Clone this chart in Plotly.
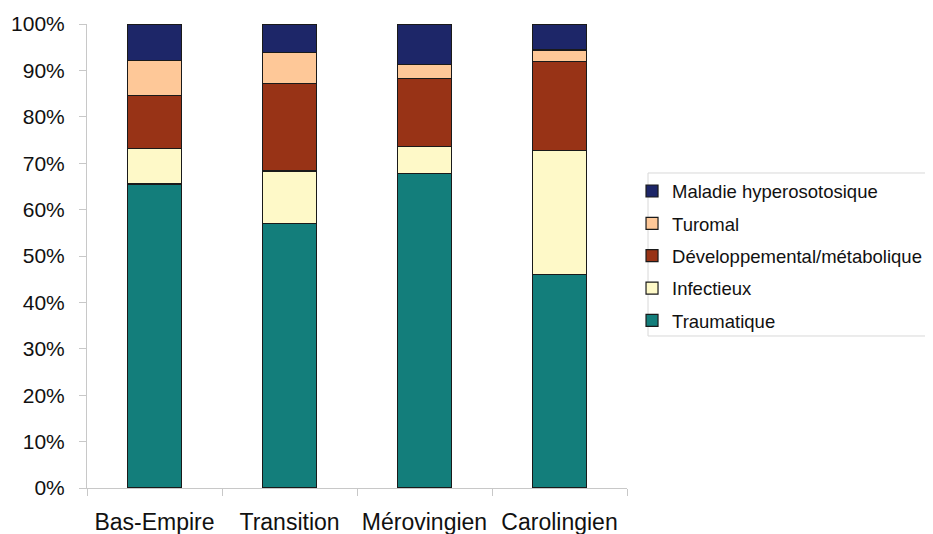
import plotly.graph_objects as go

categories = ["Bas-Empire", "Transition", "Mérovingien", "Carolingien"]

traumatique = [65.5, 57.0, 67.7, 46.0]
infectieux = [7.6, 11.3, 5.9, 26.8]
developpemental = [11.5, 18.8, 14.6, 19.2]
turomal = [7.6, 6.7, 3.0, 2.4]
maladie = [7.8, 6.2, 8.8, 5.6]

series = [
    ("Traumatique", traumatique, "#137e7b"),
    ("Infectieux", infectieux, "#fef9c8"),
    ("Développemental/métabolique", developpemental, "#983316"),
    ("Turomal", turomal, "#fec898"),
    ("Maladie hyperosotosique", maladie, "#1d2668"),
]

y_ticks = [0, 10, 20, 30, 40, 50, 60, 70, 80, 90, 100]
y_tick_labels = [f"{v}%" for v in y_ticks]

fig = go.Figure()
n = len(series)
for i, (name, vals, col) in enumerate(series):
    fig.add_trace(go.Bar(
        x=categories, y=vals, name=name,
        marker=dict(color=col, line=dict(color="#1a1a1a", width=1.2)),
        legendgroup=f"g{i}",
        legendrank=(n - i) * 100,
    ))

font_family = "Liberation Sans, Arial, sans-serif"

# legend frame drawn separately
fig.add_shape(type="rect", xref="paper", yref="paper",
              x0=1.0389, x1=1.5605, y0=0.3276, y1=0.6789,
              line=dict(color="#d8d8d8", width=1), fillcolor="rgba(0,0,0,0)",
              layer="below")

fig.update_layout(
    barmode="stack",
    bargap=0.6,
    width=925, height=526,
    margin=dict(l=79, r=306, t=16, b=46, autoexpand=False),
    paper_bgcolor="white",
    plot_bgcolor="white",
    font=dict(family=font_family, color="#111111"),
    showlegend=True,
    legend=dict(
        x=1.0093, y=0.680, xanchor="left", yanchor="top",
        traceorder="grouped",
        tracegroupgap=5.3,
        font=dict(size=18.5, family=font_family, color="#111111"),
        borderwidth=0,
        bgcolor="rgba(0,0,0,0)",
        itemwidth=30,
    ),
    xaxis=dict(
        automargin=False,
        showline=True, linecolor="#c8c8c8", linewidth=1,
        ticks="outside", tickson="boundaries", ticklen=7, tickcolor="#c8c8c8",
        tickfont=dict(size=23, family=font_family, color="#111111"),
        ticklabelstandoff=13,
        showgrid=False,
    ),
    yaxis=dict(
        automargin=False,
        range=[0, 100],
        tickvals=y_ticks, ticktext=y_tick_labels,
        showline=True, linecolor="#c8c8c8", linewidth=1,
        ticks="outside", ticklen=7, tickcolor="#c8c8c8",
        tickfont=dict(size=21, family=font_family, color="#111111"),
        ticklabelstandoff=10,
        showgrid=False, zeroline=False,
    ),
)

fig.write_html("out.html")
